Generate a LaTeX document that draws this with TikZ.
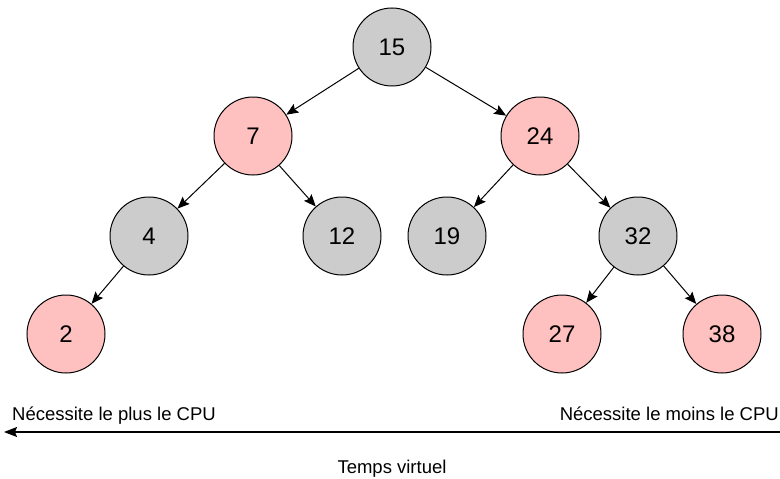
\documentclass[tikz,border=0pt]{standalone}
\usepackage{fontspec}
\setmainfont{Liberation Sans}
\usetikzlibrary{arrows.meta}

\definecolor{nodegray}{HTML}{CCCCCC}
\definecolor{nodered}{HTML}{FFC0C0}

\tikzset{
  treenode/.style={circle, draw=black, line width=1pt, minimum size=78pt,
    inner sep=0pt, font=\fontsize{24}{28}\selectfont},
  graynode/.style={treenode, fill=nodegray},
  rednode/.style={treenode, fill=nodered},
  edge/.style={line width=1pt, -{Stealth[length=12pt, width=10pt, inset=2pt]}},
  caption/.style={font=\fontsize{18.5}{22}\selectfont, inner sep=0pt}
}

\begin{document}
\begin{tikzpicture}[x=1pt, y=-1pt]
  \useasboundingbox (0, 0) rectangle (780, 479);

  \node[graynode] (n15) at (392, 47)  {15};
  \node[rednode]  (n7)  at (253, 136) {7};
  \node[rednode]  (n24) at (540, 136) {24};
  \node[graynode] (n4)  at (149, 236) {4};
  \node[graynode] (n12) at (342, 236) {12};
  \node[graynode] (n19) at (447, 236) {19};
  \node[graynode] (n32) at (638, 236) {32};
  \node[rednode]  (n2)  at (66, 334)  {2};
  \node[rednode]  (n27) at (562, 334) {27};
  \node[rednode]  (n38) at (722, 334) {38};

  \draw[edge] (n15) -- (n7);
  \draw[edge] (n15) -- (n24);
  \draw[edge] (n7) -- (n4);
  \draw[edge] (n7) -- (n12);
  \draw[edge] (n24) -- (n19);
  \draw[edge] (n24) -- (n32);
  \draw[edge] (n4) -- (n2);
  \draw[edge] (n32) -- (n27);
  \draw[edge] (n32) -- (n38);

  % time axis
  \coordinate (tstart) at (780, 432);
  \coordinate (tend) at (4, 432);
  \draw[line width=1.4pt, -{Stealth[length=13pt, width=10pt, inset=2pt]}] (tstart) -- (tend);

  \node[caption, anchor=base west] (most) at (12, 420) {Nécessite le plus le CPU};
  \node[caption, anchor=base east] (least) at (779, 420) {Nécessite le moins le CPU};
  \node[caption, anchor=base] (vtime) at (392, 473) {Temps virtuel};
\end{tikzpicture}
\end{document}
